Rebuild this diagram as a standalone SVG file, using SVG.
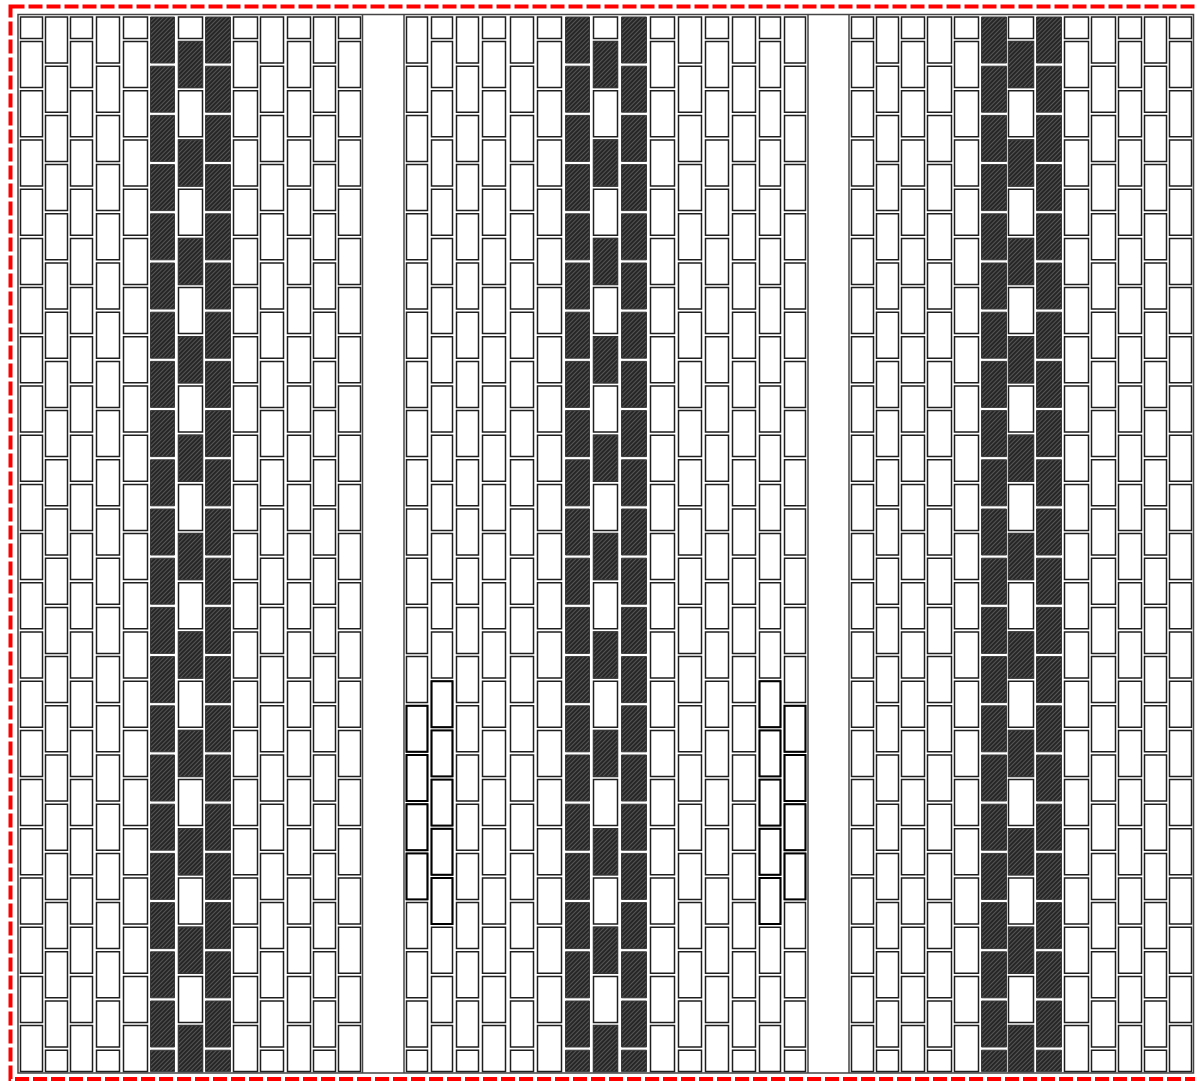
<svg xmlns="http://www.w3.org/2000/svg" width="1195" height="1081" viewBox="0 0 1195 1081">
<style>
rect{vector-effect:non-scaling-stroke}
.t{fill:#fff;stroke:#1e1e1e;stroke-width:1.5}
.d{fill:url(#hatch);stroke:#3a3a3a;stroke-width:1}
.b{fill:none;stroke:#000;stroke-width:1.9}
.frame{fill:none;stroke:#444;stroke-width:1.5}
.red{fill:none;stroke:#ff0000;stroke-width:4;stroke-dasharray:14 4}
</style>
<defs>
<pattern id="hatch" width="3" height="3" patternUnits="userSpaceOnUse" patternTransform="rotate(45)"><rect width="3" height="3" fill="#262626"/><rect width="1" height="3" fill="#565656"/></pattern>
<g id="F">
<rect y="17" width="1" height="46"/><rect y="66.2" width="1" height="46"/><rect y="115.4" width="1" height="46"/><rect y="164.6" width="1" height="46"/><rect y="213.8" width="1" height="46"/><rect y="263" width="1" height="46"/><rect y="312.2" width="1" height="46"/><rect y="361.4" width="1" height="46"/><rect y="410.6" width="1" height="46"/><rect y="459.8" width="1" height="46"/><rect y="509" width="1" height="46"/><rect y="558.2" width="1" height="46"/><rect y="607.4" width="1" height="46"/><rect y="656.6" width="1" height="46"/><rect y="705.8" width="1" height="46"/><rect y="755" width="1" height="46"/><rect y="804.2" width="1" height="46"/><rect y="853.4" width="1" height="46"/><rect y="902.6" width="1" height="46"/><rect y="951.8" width="1" height="46"/><rect y="1001" width="1" height="46"/><rect y="1050.2" width="1" height="21.4"/>
</g>
<g id="S">
<rect y="17" width="1" height="21.4"/><rect y="41.6" width="1" height="46"/><rect y="90.8" width="1" height="46"/><rect y="140" width="1" height="46"/><rect y="189.2" width="1" height="46"/><rect y="238.4" width="1" height="46"/><rect y="287.6" width="1" height="46"/><rect y="336.8" width="1" height="46"/><rect y="386" width="1" height="46"/><rect y="435.2" width="1" height="46"/><rect y="484.4" width="1" height="46"/><rect y="533.6" width="1" height="46"/><rect y="582.8" width="1" height="46"/><rect y="632" width="1" height="46"/><rect y="681.2" width="1" height="46"/><rect y="730.4" width="1" height="46"/><rect y="779.6" width="1" height="46"/><rect y="828.8" width="1" height="46"/><rect y="878" width="1" height="46"/><rect y="927.2" width="1" height="46"/><rect y="976.4" width="1" height="46"/><rect y="1025.6" width="1" height="46"/>
</g>
<g id="D25">
<rect y="17" width="24" height="46"/><rect y="66.2" width="24" height="46"/><rect y="115.4" width="24" height="46"/><rect y="164.6" width="24" height="46"/><rect y="213.8" width="24" height="46"/><rect y="263" width="24" height="46"/><rect y="312.2" width="24" height="46"/><rect y="361.4" width="24" height="46"/><rect y="410.6" width="24" height="46"/><rect y="459.8" width="24" height="46"/><rect y="509" width="24" height="46"/><rect y="558.2" width="24" height="46"/><rect y="607.4" width="24" height="46"/><rect y="656.6" width="24" height="46"/><rect y="705.8" width="24" height="46"/><rect y="755" width="24" height="46"/><rect y="804.2" width="24" height="46"/><rect y="853.4" width="24" height="46"/><rect y="902.6" width="24" height="46"/><rect y="951.8" width="24" height="46"/><rect y="1001" width="24" height="46"/><rect y="1050.2" width="24" height="21.4"/>
</g>
<g id="D26">
<rect y="17" width="25" height="46"/><rect y="66.2" width="25" height="46"/><rect y="115.4" width="25" height="46"/><rect y="164.6" width="25" height="46"/><rect y="213.8" width="25" height="46"/><rect y="263" width="25" height="46"/><rect y="312.2" width="25" height="46"/><rect y="361.4" width="25" height="46"/><rect y="410.6" width="25" height="46"/><rect y="459.8" width="25" height="46"/><rect y="509" width="25" height="46"/><rect y="558.2" width="25" height="46"/><rect y="607.4" width="25" height="46"/><rect y="656.6" width="25" height="46"/><rect y="705.8" width="25" height="46"/><rect y="755" width="25" height="46"/><rect y="804.2" width="25" height="46"/><rect y="853.4" width="25" height="46"/><rect y="902.6" width="25" height="46"/><rect y="951.8" width="25" height="46"/><rect y="1001" width="25" height="46"/><rect y="1050.2" width="25" height="21.4"/>
</g>
<g id="A25">
<rect y="41.6" width="24" height="46"/><rect y="140" width="24" height="46"/><rect y="238.4" width="24" height="46"/><rect y="336.8" width="24" height="46"/><rect y="435.2" width="24" height="46"/><rect y="533.6" width="24" height="46"/><rect y="632" width="24" height="46"/><rect y="730.4" width="24" height="46"/><rect y="828.8" width="24" height="46"/><rect y="927.2" width="24" height="46"/><rect y="1025.6" width="24" height="46"/>
</g>
<g id="A26">
<rect y="41.6" width="25" height="46"/><rect y="140" width="25" height="46"/><rect y="238.4" width="25" height="46"/><rect y="336.8" width="25" height="46"/><rect y="435.2" width="25" height="46"/><rect y="533.6" width="25" height="46"/><rect y="632" width="25" height="46"/><rect y="730.4" width="25" height="46"/><rect y="828.8" width="25" height="46"/><rect y="927.2" width="25" height="46"/><rect y="1025.6" width="25" height="46"/>
</g>
</defs>
<rect width="1195" height="1081" fill="#fff"/>
<g id="frame">
<rect class="frame" x="18" y="14.5" width="1175.5" height="1058.5"/>
<line class="frame" x1="362.5" y1="14.5" x2="362.5" y2="1073"/>
<line class="frame" x1="404" y1="14.5" x2="404" y2="1073"/>
<line class="frame" x1="808" y1="14.5" x2="808" y2="1073"/>
<line class="frame" x1="849" y1="14.5" x2="849" y2="1073"/>
</g>
<g id="panel-left">
<use href="#S" class="t" transform="translate(20.5 0) scale(22 1)"/>
<use href="#F" class="t" transform="translate(45.5 0) scale(22 1)"/>
<use href="#S" class="t" transform="translate(70.5 0) scale(22 1)"/>
<use href="#F" class="t" transform="translate(96.5 0) scale(23 1)"/>
<use href="#S" class="t" transform="translate(123.5 0) scale(24 1)"/>
<use href="#D25" class="d" x="150.5"/>
<use href="#S" class="t" transform="translate(178.5 0) scale(24 1)"/>
<use href="#A25" class="d" x="178.5"/>
<use href="#D26" class="d" x="205.5"/>
<use href="#S" class="t" transform="translate(233.5 0) scale(24 1)"/>
<use href="#F" class="t" transform="translate(260.5 0) scale(23 1)"/>
<use href="#S" class="t" transform="translate(287.5 0) scale(23 1)"/>
<use href="#F" class="t" transform="translate(313.5 0) scale(22 1)"/>
<use href="#S" class="t" transform="translate(338.5 0) scale(22 1)"/>
</g>
<g id="panel-middle">
<use href="#F" class="t" transform="translate(406.5 0) scale(21 1)"/>
<use href="#S" class="t" transform="translate(431.5 0) scale(21 1)"/>
<use href="#F" class="t" transform="translate(456.5 0) scale(22 1)"/>
<use href="#S" class="t" transform="translate(482.5 0) scale(23 1)"/>
<use href="#F" class="t" transform="translate(510.5 0) scale(23 1)"/>
<use href="#S" class="t" transform="translate(537.5 0) scale(24 1)"/>
<use href="#D25" class="d" x="565.5"/>
<use href="#S" class="t" transform="translate(593.5 0) scale(24 1)"/>
<use href="#A25" class="d" x="593.5"/>
<use href="#D26" class="d" x="621.5"/>
<use href="#S" class="t" transform="translate(650.5 0) scale(24 1)"/>
<use href="#F" class="t" transform="translate(678.5 0) scale(23 1)"/>
<use href="#S" class="t" transform="translate(705.5 0) scale(23 1)"/>
<use href="#F" class="t" transform="translate(732.5 0) scale(23 1)"/>
<use href="#S" class="t" transform="translate(759.5 0) scale(21 1)"/>
<use href="#F" class="t" transform="translate(784.5 0) scale(21 1)"/>
<g id="bold-tiles">
<rect class="b" x="406.5" y="705.8" width="21" height="46"/><rect class="b" x="406.5" y="755" width="21" height="46"/><rect class="b" x="406.5" y="804.2" width="21" height="46"/><rect class="b" x="406.5" y="853.4" width="21" height="46"/>
<rect class="b" x="784.5" y="705.8" width="21" height="46"/><rect class="b" x="784.5" y="755" width="21" height="46"/><rect class="b" x="784.5" y="804.2" width="21" height="46"/><rect class="b" x="784.5" y="853.4" width="21" height="46"/>
<rect class="b" x="431.5" y="681.2" width="21" height="46"/><rect class="b" x="431.5" y="730.4" width="21" height="46"/><rect class="b" x="431.5" y="779.6" width="21" height="46"/><rect class="b" x="431.5" y="828.8" width="21" height="46"/><rect class="b" x="431.5" y="878" width="21" height="46"/>
<rect class="b" x="759.5" y="681.2" width="21" height="46"/><rect class="b" x="759.5" y="730.4" width="21" height="46"/><rect class="b" x="759.5" y="779.6" width="21" height="46"/><rect class="b" x="759.5" y="828.8" width="21" height="46"/><rect class="b" x="759.5" y="878" width="21" height="46"/>
</g>
</g>
<g id="panel-right">
<use href="#S" class="t" transform="translate(851.5 0) scale(22 1)"/>
<use href="#F" class="t" transform="translate(876.5 0) scale(22 1)"/>
<use href="#S" class="t" transform="translate(901.5 0) scale(23 1)"/>
<use href="#F" class="t" transform="translate(927.5 0) scale(24 1)"/>
<use href="#S" class="t" transform="translate(954.5 0) scale(24 1)"/>
<use href="#D26" class="d" x="981.5"/>
<use href="#S" class="t" transform="translate(1008.5 0) scale(25 1)"/>
<use href="#A26" class="d" x="1008.5"/>
<use href="#D26" class="d" x="1036.5"/>
<use href="#S" class="t" transform="translate(1064.5 0) scale(24 1)"/>
<use href="#F" class="t" transform="translate(1091.5 0) scale(24 1)"/>
<use href="#S" class="t" transform="translate(1118.5 0) scale(23 1)"/>
<use href="#F" class="t" transform="translate(1144.5 0) scale(22 1)"/>
<use href="#S" class="t" transform="translate(1169.5 0) scale(22 1)"/>
</g>
<rect class="red" x="10.5" y="6.5" width="1192" height="1072.5"/>
</svg>
